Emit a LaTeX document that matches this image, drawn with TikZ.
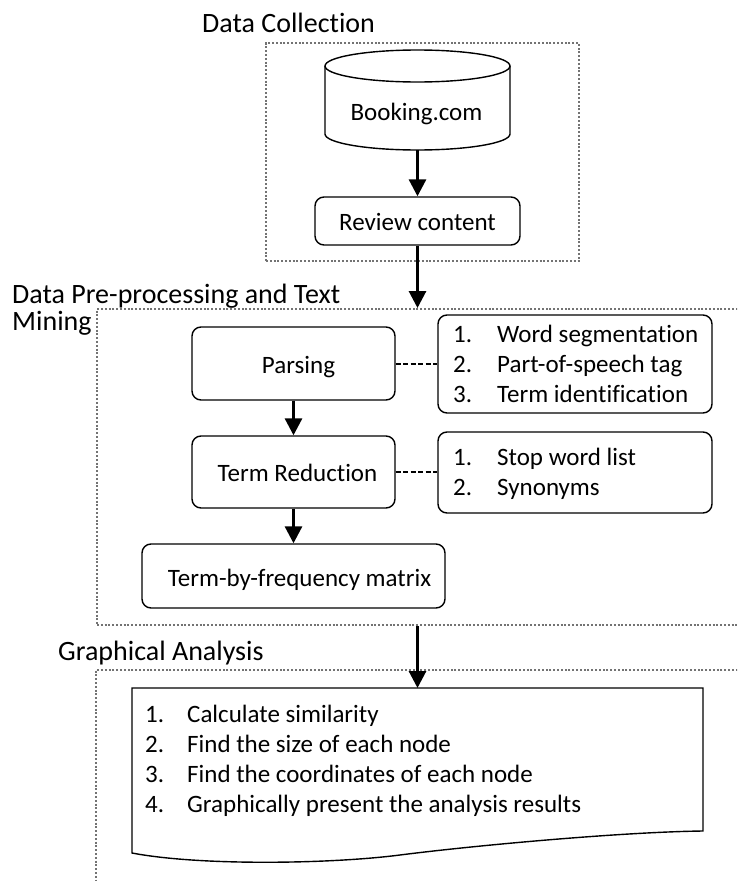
\documentclass[tikz,border=0pt]{standalone}
\usepackage{fontspec}
\setmainfont{Carlito}[Ligatures={NoCommon,NoContextual}]
\usetikzlibrary{arrows.meta}
\tikzset{
  dotbox/.style={draw=black!55, line width=2pt, dash pattern=on 2pt off 1.8pt},
  rbox/.style={draw, line width=1.4pt, rounded corners=9pt, inner sep=0pt},
  ghost/.style={inner sep=0pt, outer sep=0pt},
  lbl/.style={font=\fontsize{25}{30}\selectfont, inner sep=0pt, anchor=base},
  item/.style={font=\fontsize{25}{30}\selectfont, inner sep=0pt, anchor=base west},
  ttl/.style={font=\fontsize{28}{34}\selectfont, inner sep=0pt, anchor=base west},
  flow/.style={line width=3pt, -{Triangle[length=17pt,width=17pt]}},
  link/.style={line width=2pt, dash pattern=on 5pt off 2.5pt},
  shapeline/.style={line width=1.4pt}
}
\newcommand{\num}[1]{\makebox[44pt][l]{#1}}
\begin{document}
\begin{tikzpicture}[x=1pt,y=1pt]
\useasboundingbox (0,0) rectangle (737,-881);
\clip (0,0) rectangle (737,-881);

% titles
\node[ttl] (t1) at (202,-32) {Data Collection};
\node[ttl] (t2a) at (12,-303) {Data Pre-processing and Text};
\node[ttl] (t2b) at (12,-330) {Mining};
\node[ttl] (t3) at (58,-660) {Graphical Analysis};

% containers
\node[dotbox, anchor=north west, minimum width=313pt, minimum height=218pt] (dcbox) at (265,-42) {};
\node[dotbox, anchor=north west, minimum width=700pt, minimum height=316pt] (ppbox) at (96,-308) {};
\node[dotbox, anchor=north west, minimum width=700pt, minimum height=260pt] (gabox) at (95,-669) {};

% cylinder
\node[ghost, minimum width=185pt, minimum height=100pt] (cyl) at (417.5,-100) {};
\draw[shapeline] (325,-66) -- (325,-134) arc[start angle=180, end angle=360, x radius=92.5, y radius=16] -- (510,-66);
\draw[shapeline] (417.5,-66) ellipse [x radius=92.5, y radius=16];
\node[lbl] (cyltext) at (416.5,-120) {Booking.com};

% review content
\node[rbox, minimum width=205pt, minimum height=48pt] (review) at (417.5,-221) {};
\node[lbl] (reviewtext) at (417.5,-230) {Review content};

% pre-processing boxes
\node[rbox, minimum width=203pt, minimum height=73pt] (parsing) at (293.5,-363.5) {};
\node[lbl] (parsingtext) at (298.5,-373) {Parsing};
\node[rbox, minimum width=203pt, minimum height=72pt] (termred) at (293.5,-472) {};
\node[lbl] (termredtext) at (297.5,-481) {Term Reduction};
\node[rbox, minimum width=303pt, minimum height=64pt] (tbf) at (293.5,-576) {};
\node[lbl] (tbftext) at (299.5,-586) {Term-by-frequency matrix};

\node[rbox, minimum width=274pt, minimum height=98pt] (list1) at (575,-364) {};
\node[item] (l1a) at (453,-342) {\num{1.}Word segmentation};
\node[item] (l1b) at (453,-372) {\num{2.}Part-of-speech tag};
\node[item] (l1c) at (453,-402) {\num{3.}Term identification};

\node[rbox, minimum width=274pt, minimum height=81pt] (list2) at (575,-472.5) {};
\node[item] (l2a) at (453,-465) {\num{1.}Stop word list};
\node[item] (l2b) at (453,-495) {\num{2.}Synonyms};

% document shape
\node[ghost, minimum width=571pt, minimum height=143pt] (doc) at (417.5,-759.5) {};
\draw[shapeline] (132,-853) -- (132,-688) -- (703,-688) -- (703,-831)
  .. controls (620,-832) and (470,-846) .. (400,-855)
  .. controls (330,-864) and (200,-866) .. (132,-853) -- cycle;
\node[item] (d1) at (145,-722) {\makebox[42pt][l]{1.}Calculate similarity};
\node[item] (d2) at (145,-752) {\makebox[42pt][l]{2.}Find the size of each node};
\node[item] (d3) at (145,-782) {\makebox[42pt][l]{3.}Find the coordinates of each node};
\node[item] (d4) at (145,-812) {\makebox[42pt][l]{4.}Graphically present the analysis results};

% connectors
\draw[flow] (cyl.south) -- (review.north);
\draw[flow] (review.south) -- (review.south |- ppbox.north);
\draw[flow] (parsing.south) -- (termred.north);
\draw[flow] (termred.south) -- (tbf.north);
\draw[flow] (doc.north |- ppbox.south) -- (doc.north);
\draw[link] (parsing.east) -- (list1.west |- parsing.east);
\draw[link] (termred.east) -- (list2.west |- termred.east);
\end{tikzpicture}
\end{document}
